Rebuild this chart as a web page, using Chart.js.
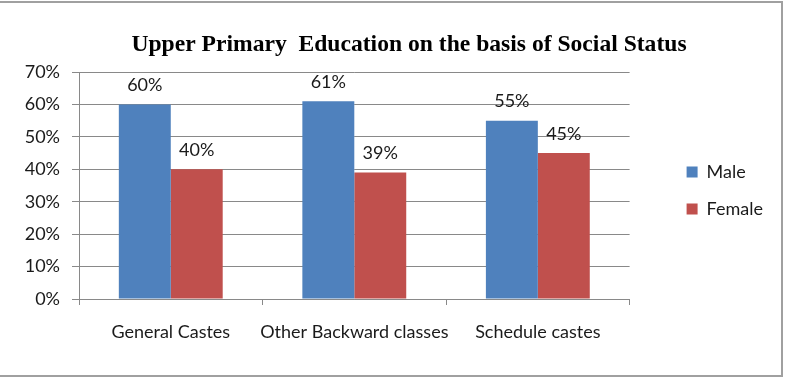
<!DOCTYPE html>
<html>
<head>
<meta charset="utf-8">
<script src="https://cdn.jsdelivr.net/npm/chart.js@4/dist/chart.umd.min.js"></script>
<style>
  html, body { margin: 0; padding: 0; background: #fff; }
  #wrap { position: relative; width: 789px; height: 378px; overflow: hidden; }
  #frame { position: absolute; left: -3px; top: 1px; width: 786px; height: 376px; box-sizing: border-box; border: 2px solid #a0a0a0; pointer-events: none; }
  canvas { position: absolute; left: 0; top: 0; }
</style>
</head>
<body>
<div id="wrap">
  <canvas id="chart" width="789" height="378"></canvas>
  <div id="frame"></div>
</div>
<script>
const categories = ["General Castes", "Other Backward classes", "Schedule castes"];
const male = [60, 61, 55];
const female = [40, 39, 45];
const yTicks = [0, 10, 20, 30, 40, 50, 60, 70];
const title = "Upper Primary  Education on the basis of Social Status";

const GRID = "#898989";
const TXT = "#1a1a1a";
const FONT = "Lato, 'Open Sans', sans-serif";

// title drawn over the canvas, a bit right of centre like the original
const titlePlugin = {
  id: "topTitle",
  afterDraw(chart) {
    const ctx = chart.ctx;
    ctx.save();
    ctx.font = "bold 23.6px 'Liberation Serif', 'Times New Roman', serif";
    ctx.fillStyle = "#000";
    ctx.textAlign = "center";
    ctx.textBaseline = "alphabetic";
    ctx.fillText(title, 409, 51);
    ctx.restore();
  }
};

// value labels above each bar
const valueLabels = {
  id: "valueLabels",
  afterDatasetsDraw(chart) {
    const ctx = chart.ctx;
    ctx.save();
    ctx.font = "18px " + FONT;
    ctx.fillStyle = TXT;
    ctx.textAlign = "center";
    ctx.textBaseline = "middle";
    chart.data.datasets.forEach((ds, i) => {
      chart.getDatasetMeta(i).data.forEach((bar, j) => {
        ctx.fillText(ds.data[j] + "%", bar.x, bar.y - 19);
      });
    });
    ctx.restore();
  }
};

new Chart(document.getElementById("chart"), {
  type: "bar",
  data: {
    labels: categories,
    datasets: [
      { label: "Male", data: male, backgroundColor: "#4f81bd", categoryPercentage: 0.566, barPercentage: 1 },
      { label: "Female", data: female, backgroundColor: "#c0504d", categoryPercentage: 0.566, barPercentage: 1 }
    ]
  },
  options: {
    responsive: false,
    animation: false,
    layout: { padding: { top: 72, right: 16, bottom: 0, left: 0 } },
    plugins: {
      title: { display: false },
      tooltip: { enabled: false },
      legend: {
        position: "right",
        align: "start",
        // empty title only pushes the items down
        title: { display: true, text: "", font: { size: 10, lineHeight: 1 }, padding: { top: 62, bottom: 0 } },
        labels: { boxWidth: 11, boxHeight: 11, padding: 19, color: TXT, font: { size: 18, family: FONT } }
      }
    },
    scales: {
      x: {
        grid: { offset: true, drawOnChartArea: false, color: GRID, tickLength: 6 },
        border: { color: GRID },
        ticks: { color: TXT, padding: 16, maxRotation: 0, minRotation: 0, autoSkip: false, font: { size: 18, family: FONT } },
        afterFit: (s) => { s.height = 79; }
      },
      y: {
        min: 0, max: 70,
        afterBuildTicks: (s) => { s.ticks = yTicks.map(v => ({ value: v })); },
        grid: { color: GRID, tickLength: 7 },
        border: { color: GRID },
        ticks: { color: TXT, padding: 12, font: { size: 18, family: FONT }, callback: (v) => v + "%" },
        afterFit: (s) => { s.width = 79; }
      },
      // empty spacer between plot and legend
      gap: {
        type: "linear", position: "right", display: true,
        grid: { display: false }, border: { display: false }, ticks: { display: false },
        afterFit: (s) => { s.width = 38; }
      }
    }
  },
  plugins: [titlePlugin, valueLabels]
});
</script>
</body>
</html>
